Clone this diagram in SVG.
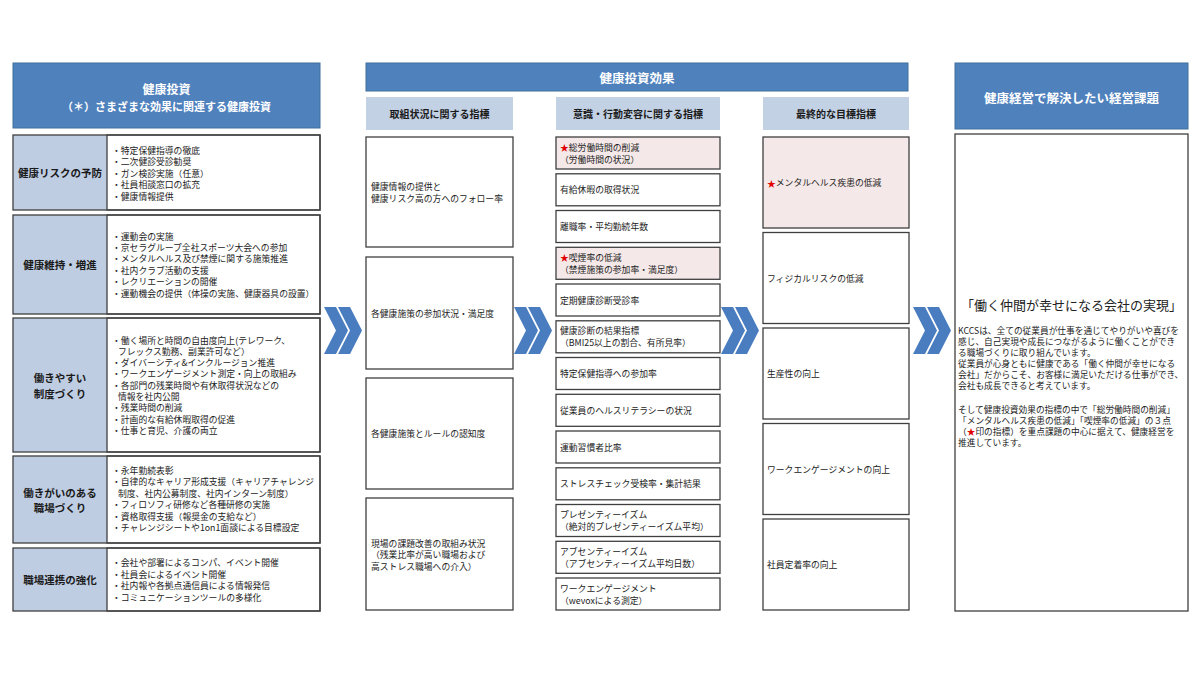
<svg xmlns="http://www.w3.org/2000/svg" width="1200" height="676" viewBox="0 0 1200 676">
<style>
text{font-family:"Noto Sans CJK JP","Noto Sans",sans-serif;dominant-baseline:central;fill:#222}
.hdr{fill:#4f81bd;stroke:#41719c;stroke-width:1}
.ht{fill:#fff;font-weight:bold;text-anchor:middle}
.sub{fill:#c3d1e4}
.st{font-weight:bold;font-size:10px;text-anchor:middle;fill:#1a1a1a}
.lab{fill:#bfcde2}
.lt{font-weight:bold;font-size:10.5px;text-anchor:middle;fill:#1a1a1a}
.row{fill:none;stroke:#3f3f3f;stroke-width:1.3}
.box{fill:#fff;stroke:#3f3f3f;stroke-width:1.3}
.pink{fill:#f5e8e8;stroke:#3f3f3f;stroke-width:1.3}
.t{font-size:8.8px}
.rt{font-size:8.7px}
.star{fill:#e00000}
.chev{fill:#4a7dc0}
</style>
<defs>
<g id="arrow">
<polygon points="0,0 12,0 24,23.5 12,47 0,47 12,23.5"/>
<polygon points="14,0 26,0 38,23.5 26,47 14,47 26,23.5"/>
</g>
</defs>
<rect width="1200" height="676" fill="#fff"/>

<!-- Left column -->
<g id="left-header">
<rect class="hdr" x="13" y="63" width="307" height="65"/>
<text class="ht" x="166.5" y="88" font-size="12">健康投資</text>
<text class="ht" x="166.5" y="106" font-size="11">（＊）さまざまな効果に関連する健康投資</text>
</g>

<g id="row-risk">
<rect class="lab" x="13" y="135" width="94" height="75"/>
<rect class="box" x="107" y="135" width="213" height="75"/>
<rect class="row" x="13" y="135" width="307" height="75"/>
<text class="lt" x="60" y="172.5">健康リスクの予防</text>
<text class="t" x="112" y="150">・特定保健指導の徹底</text>
<text class="t" x="112" y="161.5">・二次健診受診勧奨</text>
<text class="t" x="112" y="173">・ガン検診実施（任意）</text>
<text class="t" x="112" y="184.5">・社員相談窓口の拡充</text>
<text class="t" x="112" y="196">・健康情報提供</text>
</g>

<g id="row-maintain">
<rect class="lab" x="13" y="215" width="94" height="99"/>
<rect class="box" x="107" y="215" width="213" height="99"/>
<rect class="row" x="13" y="215" width="307" height="99"/>
<text class="lt" x="60" y="264.5">健康維持・増進</text>
<text class="t" x="112" y="236">・運動会の実施</text>
<text class="t" x="112" y="247.4">・京セラグループ全社スポーツ大会への参加</text>
<text class="t" x="112" y="258.8">・メンタルヘルス及び禁煙に関する施策推進</text>
<text class="t" x="112" y="270.2">・社内クラブ活動の支援</text>
<text class="t" x="112" y="281.6">・レクリエーションの開催</text>
<text class="t" x="112" y="293">・運動機会の提供（体操の実施、健康器具の設置）</text>
</g>

<g id="row-easy">
<rect class="lab" x="13" y="318" width="94" height="134"/>
<rect class="box" x="107" y="318" width="213" height="134"/>
<rect class="row" x="13" y="318" width="307" height="134"/>
<text class="lt" x="60" y="377">働きやすい</text>
<text class="lt" x="60" y="393">制度づくり</text>
<text class="t" x="112" y="340">・働く場所と時間の自由度向上(テレワーク、</text>
<text class="t" x="118" y="351.3">フレックス勤務、副業許可など）</text>
<text class="t" x="112" y="362.6">・ダイバーシティ&amp;インクルージョン推進</text>
<text class="t" x="112" y="373.9">・ワークエンゲージメント測定・向上の取組み</text>
<text class="t" x="112" y="385.2">・各部門の残業時間や有休取得状況などの</text>
<text class="t" x="118" y="396.5">情報を社内公開</text>
<text class="t" x="112" y="407.8">・残業時間の削減</text>
<text class="t" x="112" y="419.1">・計画的な有給休暇取得の促進</text>
<text class="t" x="112" y="430.4">・仕事と育児、介護の両立</text>
</g>

<g id="row-rewarding">
<rect class="lab" x="13" y="456" width="94" height="87"/>
<rect class="box" x="107" y="456" width="213" height="87"/>
<rect class="row" x="13" y="456" width="307" height="87"/>
<text class="lt" x="60" y="492">働きがいのある</text>
<text class="lt" x="60" y="507">職場づくり</text>
<text class="t" x="112" y="470.5">・永年勤続表彰</text>
<text class="t" x="112" y="481.9">・自律的なキャリア形成支援（キャリアチャレンジ</text>
<text class="t" x="118" y="493.3">制度、社内公募制度、社内インターン制度）</text>
<text class="t" x="112" y="504.7">・フィロソフィ研修など各種研修の実施</text>
<text class="t" x="112" y="516.1">・資格取得支援（報奨金の支給など）</text>
<text class="t" x="112" y="527.5">・チャレンジシートや1on1面談による目標設定</text>
</g>

<g id="row-link">
<rect class="lab" x="13" y="548" width="94" height="63"/>
<rect class="box" x="107" y="548" width="213" height="63"/>
<rect class="row" x="13" y="548" width="307" height="63"/>
<text class="lt" x="60" y="579.5">職場連携の強化</text>
<text class="t" x="112" y="562.5">・会社や部署によるコンパ、イベント開催</text>
<text class="t" x="112" y="574">・社員会によるイベント開催</text>
<text class="t" x="112" y="585.5">・社内報や各拠点通信員による情報発信</text>
<text class="t" x="112" y="597">・コミュニケーションツールの多様化</text>
</g>

<!-- Middle header -->
<g id="effect-header">
<rect class="hdr" x="366" y="63" width="542" height="28"/>
<text class="ht" x="637" y="77" font-size="12.5">健康投資効果</text>
</g>

<!-- Column 1 -->
<g id="col-activity">
<rect class="sub" x="366" y="97" width="147" height="33"/>
<text class="st" x="439.5" y="113.5">取組状況に関する指標</text>
<g id="a1"><rect class="box" x="366" y="137" width="147" height="110"/>
<text class="t" x="371" y="186.5">健康情報の提供と</text>
<text class="t" x="371" y="198.5">健康リスク高の方へのフォロー率</text></g>
<g id="a2"><rect class="box" x="366" y="257" width="147" height="112"/>
<text class="t" x="371" y="313">各健康施策の参加状況・満足度</text></g>
<g id="a3"><rect class="box" x="366" y="378" width="147" height="111"/>
<text class="t" x="371" y="433.5">各健康施策とルールの認知度</text></g>
<g id="a4"><rect class="box" x="366" y="498" width="147" height="112"/>
<text class="t" x="371" y="543">現場の課題改善の取組み状況</text>
<text class="t" x="371" y="554.5">（残業比率が高い職場および</text>
<text class="t" x="371" y="566">高ストレス職場への介入）</text></g>
</g>

<!-- Column 2 -->
<g id="col-behavior">
<rect class="sub" x="556" y="97" width="164" height="33"/>
<text class="st" x="638" y="113.5">意識・行動変容に関する指標</text>
<g id="b1"><rect class="pink" x="556" y="137" width="164" height="32"/>
<text class="t" x="560" y="147"><tspan class="star">★</tspan>総労働時間の削減</text>
<text class="t" x="560" y="159">（労働時間の状況）</text></g>
<g id="b2"><rect class="box" x="556" y="173.8" width="164" height="32"/>
<text class="t" x="560" y="189.8">有給休暇の取得状況</text></g>
<g id="b3"><rect class="box" x="556" y="210.5" width="164" height="32"/>
<text class="t" x="560" y="226.5">離職率・平均勤続年数</text></g>
<g id="b4"><rect class="pink" x="556" y="247.3" width="164" height="32"/>
<text class="t" x="560" y="257.3"><tspan class="star">★</tspan>喫煙率の低減</text>
<text class="t" x="560" y="269.3">（禁煙施策の参加率・満足度）</text></g>
<g id="b5"><rect class="box" x="556" y="284" width="164" height="32"/>
<text class="t" x="560" y="300">定期健康診断受診率</text></g>
<g id="b6"><rect class="box" x="556" y="320.8" width="164" height="32"/>
<text class="t" x="560" y="330.8">健康診断の結果指標</text>
<text class="t" x="560" y="342.8">（BMI25以上の割合、有所見率）</text></g>
<g id="b7"><rect class="box" x="556" y="357.5" width="164" height="32"/>
<text class="t" x="560" y="373.5">特定保健指導への参加率</text></g>
<g id="b8"><rect class="box" x="556" y="394.3" width="164" height="32"/>
<text class="t" x="560" y="410.3">従業員のヘルスリテラシーの状況</text></g>
<g id="b9"><rect class="box" x="556" y="431" width="164" height="32"/>
<text class="t" x="560" y="447">運動習慣者比率</text></g>
<g id="b10"><rect class="box" x="556" y="467.8" width="164" height="32"/>
<text class="t" x="560" y="483.8">ストレスチェック受検率・集計結果</text></g>
<g id="b11"><rect class="box" x="556" y="504.5" width="164" height="32"/>
<text class="t" x="560" y="514.5">プレゼンティーイズム</text>
<text class="t" x="560" y="526.5">（絶対的プレゼンティーイズム平均）</text></g>
<g id="b12"><rect class="box" x="556" y="541.3" width="164" height="32"/>
<text class="t" x="560" y="551.3">アブセンティーイズム</text>
<text class="t" x="560" y="563.3">（アブセンティーイズム平均日数）</text></g>
<g id="b13"><rect class="box" x="556" y="578" width="164" height="32"/>
<text class="t" x="560" y="588">ワークエンゲージメント</text>
<text class="t" x="560" y="600">（wevoxによる測定）</text></g>
</g>

<!-- Column 3 -->
<g id="col-goal">
<rect class="sub" x="763" y="97" width="146" height="33"/>
<text class="st" x="836" y="113.5">最終的な目標指標</text>
<g id="c1"><rect class="pink" x="763" y="137" width="146" height="91"/>
<text class="t" x="767" y="182.5"><tspan class="star">★</tspan>メンタルヘルス疾患の低減</text></g>
<g id="c2"><rect class="box" x="763" y="232.5" width="146" height="91"/>
<text class="t" x="767" y="278">フィジカルリスクの低減</text></g>
<g id="c3"><rect class="box" x="763" y="328" width="146" height="91"/>
<text class="t" x="767" y="373.5">生産性の向上</text></g>
<g id="c4"><rect class="box" x="763" y="423.5" width="146" height="91"/>
<text class="t" x="767" y="469">ワークエンゲージメントの向上</text></g>
<g id="c5"><rect class="box" x="763" y="519" width="146" height="91"/>
<text class="t" x="767" y="564.5">社員定着率の向上</text></g>
</g>

<!-- Right column -->
<g id="issue">
<rect class="hdr" x="955" y="63" width="233" height="66"/>
<text class="ht" x="1071.5" y="97" font-size="12.5">健康経営で解決したい経営課題</text>
<rect class="box" x="955" y="134" width="233" height="477"/>
<text x="1071.5" y="304" font-size="13" text-anchor="middle" fill="#111">「働く仲間が幸せになる会社の実現」</text>
<text class="rt" x="958" y="330">KCCSは、全ての従業員が仕事を通じてやりがいや喜びを</text>
<text class="rt" x="958" y="341">感じ、自己実現や成長につながるように働くことができ</text>
<text class="rt" x="958" y="352">る職場づくりに取り組んでいます。</text>
<text class="rt" x="958" y="363">従業員が心身ともに健康である「働く仲間が幸せになる</text>
<text class="rt" x="958" y="374">会社」だからこそ、お客様に満足いただける仕事ができ、</text>
<text class="rt" x="958" y="385">会社も成長できると考えています。</text>
<text class="rt" x="958" y="409">そして健康投資効果の指標の中で「総労働時間の削減」</text>
<text class="rt" x="958" y="420">「メンタルヘルス疾患の低減」「喫煙率の低減」の３点</text>
<text class="rt" x="958" y="431">（<tspan class="star">★</tspan>印の指標）を重点課題の中心に据えて、健康経営を</text>
<text class="rt" x="958" y="442">推進しています。</text>
</g>

<!-- Connectors: chevron arrows -->
<g id="connectors" class="chev">
<use href="#arrow" x="324" y="307"/>
<use href="#arrow" x="514" y="307"/>
<use href="#arrow" x="721" y="307"/>
<use href="#arrow" x="913" y="307"/>
</g>
</svg>
